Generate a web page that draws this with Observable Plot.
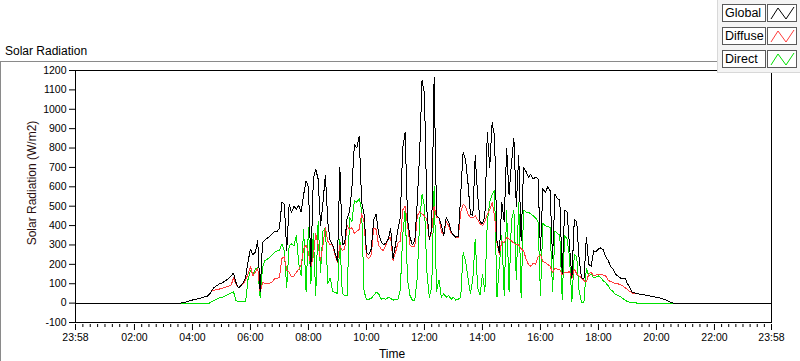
<!DOCTYPE html>
<html><head><meta charset="utf-8">
<script src="https://cdn.jsdelivr.net/npm/d3@7"></script>
<script src="https://cdn.jsdelivr.net/npm/@observablehq/plot@0.6"></script>
<style>
body{margin:0;background:#fff;font-family:"Liberation Sans",Arial,sans-serif;color:#000;}
#wrap{position:relative;width:800px;height:361px;overflow:hidden;background:#fff;}
#panel{position:absolute;left:0;top:61px;width:820px;height:299px;border-top:1px solid #8a8a8a;border-left:1px solid #8a8a8a;border-bottom:1px solid #8a8a8a;box-sizing:content-box;}
#chart{position:absolute;left:0;top:0;}
#title{position:absolute;left:5px;top:44px;font-size:12px;line-height:14px;white-space:nowrap;}
#ylabel{position:absolute;left:-68px;top:176px;width:200px;text-align:center;font-size:12px;line-height:14px;transform:rotate(-90deg);color:#2a0f0f;white-space:nowrap;}
#xlabel{position:absolute;left:342px;top:347px;width:100px;text-align:center;font-size:12px;line-height:14px;}
#legend{position:absolute;left:717px;top:0;width:90px;height:72px;background:#f4f4f4;border-left:1px solid #d8d8d8;border-bottom:1px solid #d8d8d8;}
.row{position:absolute;left:4px;height:18px;}
.lab{position:absolute;left:0;top:0;width:40px;height:16px;border:1px solid #5a5a5a;background:#fff;font-size:12.5px;line-height:16px;padding-left:2px;box-sizing:content-box;}
.smp{position:absolute;left:45px;top:0;width:28px;height:16px;border:1px solid #5a5a5a;background:#fff;}
</style></head><body>
<div id="wrap">
  <div id="panel"></div>
  <div id="chart"></div>
  <div id="title">Solar Radiation</div>
  <div id="ylabel">Solar Radiation (W/m2)</div>
  <div id="xlabel">Time</div>
  <div id="legend"></div>
</div>
<script>
// sampling: first sample at 03:35, every 5 minutes (clock hours)
const startHour = 3 + 35/60;
const stepMinutes = 5;
const axisStart = -2/60;      // 23:58 of previous day
const axisEnd = 24 - 2/60;    // 23:58

const globalVals = [
0,3,5,9,12,16,19,22,25,28,32,35,45,
65,81,90,98,102,110,119,127,141,155,107,78,90,107,132,
215,279,250,262,322,60,313,325,336,344,358,372,367,388,520,510,270,510,467,500,484,
505,470,560,630,600,190,640,690,640,400,520,660,420,320,300,260,215,700,300,310,440,470,600,820,800,860,520,460,260,250,280,430,460,360,320,300,310,330,385,230,300,380,440,800,880,430,340,300,320,520,770,1150,1080,480,330,
380,1165,450,440,400,350,440,420,370,350,340,345,560,780,740,620,460,450,760,560,420,410,450,880,700,930,860,320,260,520,420,800,560,720,850,500,760,320,700,680,650,665,640,650,640,270,590,570,600,580,230,560,540,530,
150,480,470,300,130,430,420,230,130,125,340,200,190,270,265,280,285,275,240,220,190,175,150,140,130,125,130,100,80,55,52,50,46,45,42,40,38,35,32,30,28,25,20,15,10,3,0,0,0
];
const diffuseVals = [
0,3,5,9,12,16,19,22,25,28,32,35,45,
62,66,70,72,76,80,84,88,93,130,100,78,88,100,120,
150,190,140,160,180,58,105,103,102,103,110,125,128,132,230,240,170,160,135,140,160,
175,200,280,300,260,190,240,360,300,220,300,390,320,300,300,250,210,300,270,280,400,380,390,360,370,380,460,420,240,230,250,390,380,300,280,270,300,330,340,220,260,310,320,480,500,400,300,290,290,450,470,460,450,430,330,
370,500,440,440,370,350,420,400,360,350,340,340,470,510,500,460,440,440,450,430,410,400,420,460,480,520,450,310,250,320,310,340,330,320,310,300,300,280,270,230,200,190,205,200,240,250,215,210,200,190,160,180,175,175,
145,160,155,165,125,175,150,140,130,115,110,150,160,140,145,150,150,145,140,120,110,108,100,100,95,90,80,70,60,52,52,50,46,45,42,40,38,35,32,30,28,25,20,15,10,3,0,0,0
];
const directVals = [
0,0,0,0,0,0,0,0,0,0,0,0,0,
7,15,21,26,29,34,41,46,52,58,12,8,8,8,8,
124,167,150,175,184,29,184,219,227,236,248,262,270,274,305,270,81,296,305,296,348,
200,140,380,60,390,100,360,40,420,160,370,390,100,130,60,55,50,330,50,40,40,440,420,530,520,540,480,60,20,20,25,40,55,50,20,25,20,30,25,15,20,20,70,350,480,120,40,15,15,130,420,560,500,160,30,
80,600,60,120,30,50,30,40,20,30,15,20,30,260,220,130,50,120,330,80,40,150,60,420,520,560,580,30,200,350,40,480,60,430,480,120,520,30,480,470,470,460,450,440,420,40,410,400,395,390,60,370,360,350,
20,350,330,240,10,250,240,60,5,5,180,140,150,130,135,140,130,115,105,90,70,60,45,40,35,25,15,8,5,3,2,0,0,0,0,0,0,0,0,0,0,0,0,0,0,0,0,0,0
];

const seriesNames = ["Global","Diffuse","Direct"];
const seriesColors = ["#000000","#ff3c3c","#00e000"];
const xTickLabels = ["23:58","02:00","04:00","06:00","08:00","10:00","12:00","14:00","16:00","18:00","20:00","22:00","23:58"];
const xTickHours = [axisStart,2,4,6,8,10,12,14,16,18,20,22,axisEnd];
const yTicks = [-100,0,100,200,300,400,500,600,700,800,900,1000,1100,1200];

function rows(vals){
  const r = [{t: axisStart, v: 0}];
  vals.forEach((v,i)=> r.push({t: startHour + i*stepMinutes/60, v}));
  r.push({t: axisEnd, v: 0});
  return r;
}
const dataBy = {Global: rows(globalVals), Diffuse: rows(diffuseVals), Direct: rows(directVals)};

const minorTicks = [];
for (let k=0;k<xTickHours.length-1;k++){
  const a = xTickHours[k], b = xTickHours[k+1];
  for (let j=1;j<8;j++) minorTicks.push(a + (b-a)*j/8);
}
const labelMap = new Map(xTickHours.map((h,i)=>[h, xTickLabels[i]]));

const chart = Plot.plot({
  width: 800, height: 361,
  marginTop: 70, marginRight: 29, marginBottom: 39, marginLeft: 75,
  style: {fontFamily: "Liberation Sans, Arial, sans-serif", fontSize: "10.5px", color: "#000", background: "transparent", overflow: "visible"},
  x: {domain: [axisStart, axisEnd]},
  y: {domain: [-100, 1200]},
  marks: [
    Plot.line(dataBy.Direct, {x: "t", y: "v", stroke: seriesColors[2], strokeWidth: 1, shapeRendering: "crispEdges"}),
    Plot.line(dataBy.Diffuse, {x: "t", y: "v", stroke: seriesColors[1], strokeWidth: 1, shapeRendering: "crispEdges"}),
    Plot.line(dataBy.Global, {x: "t", y: "v", stroke: seriesColors[0], strokeWidth: 1, shapeRendering: "crispEdges"}),
    Plot.frame({stroke: "#000", shapeRendering: "crispEdges"}),
    Plot.axisY({ticks: yTicks, tickSize: 6, tickPadding: 3, label: null, tickFormat: d => String(d)}),
    Plot.axisX({ticks: xTickHours, tickSize: 6, tickPadding: 3, dy: 2, label: null, tickFormat: d => labelMap.get(d)}),
    Plot.axisX({ticks: minorTicks, tickSize: 3, dy: 2, label: null, tickFormat: () => ""})
  ]
});
document.getElementById("chart").appendChild(chart);

// legend
const legend = document.getElementById("legend");
seriesNames.forEach((name, i) => {
  const row = document.createElement("div");
  row.className = "row";
  row.style.top = (4 + i*23) + "px";
  row.innerHTML = `<div class="lab">${name}</div><div class="smp"><svg width="28" height="16"><polyline points="3,14 10,3 18,14 26,2" fill="none" stroke="${seriesColors[i]}" stroke-width="1"/></svg></div>`;
  legend.appendChild(row);
});
</script>
</body></html>
